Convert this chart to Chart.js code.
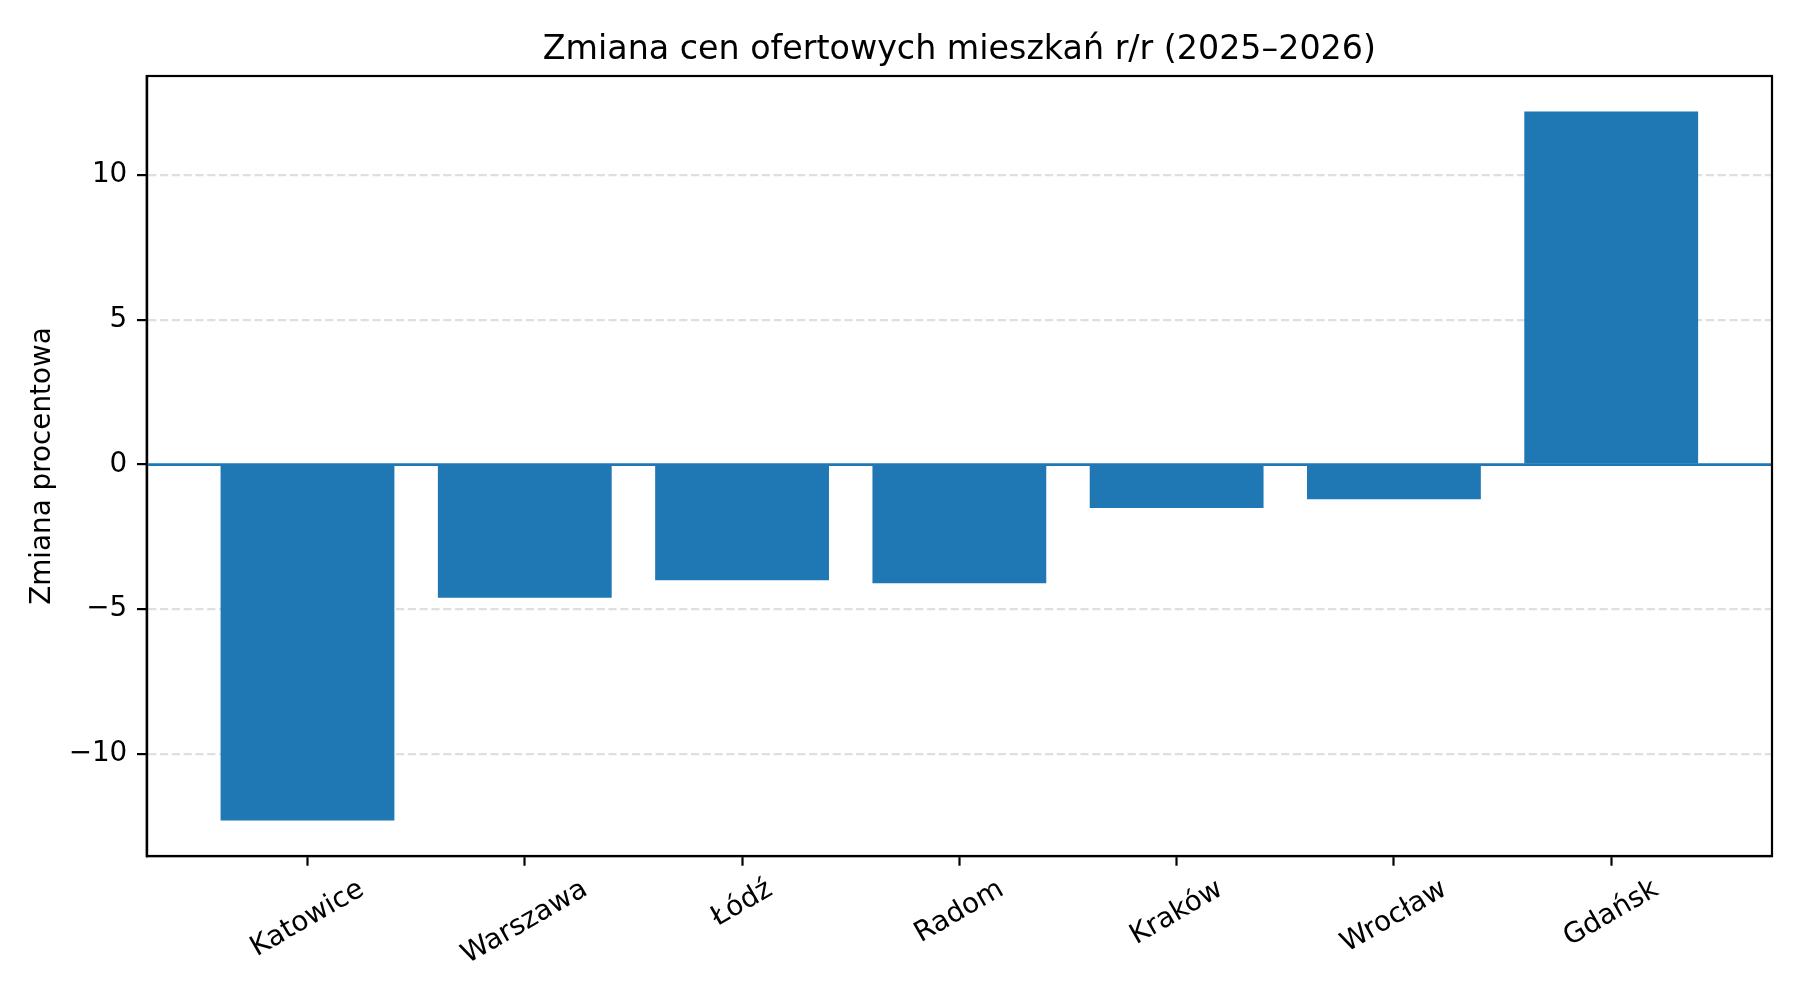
<!DOCTYPE html>
<html>
<head>
<meta charset="utf-8">
<script src="https://cdn.jsdelivr.net/npm/chart.js@4"></script>
<style>
  body { margin: 0; background: #fff; }
  canvas { display: block; }
</style>
</head>
<body>
<canvas id="myChart" width="1800" height="1000"></canvas>
<script>
var cities = ['Katowice', 'Warszawa', 'Łódź', 'Radom', 'Kraków', 'Wrocław', 'Gdańsk'];
var changes = [-12.3, -4.6, -4.0, -4.1, -1.5, -1.2, 12.2];
var yTicks = [-10, -5, 0, 5, 10];
var chartTitle = 'Zmiana cen ofertowych mieszkań r/r (2025–2026)';

var FONT = "'DejaVu Sans', sans-serif";
var LABEL_SIZE = 27.8;
var TITLE_SIZE = 33.3;

// title over the axes, spines on all four sides, the zero line and the rotated city labels
var framePlugin = {
    id: 'frame',
    afterDraw: function(chart) {
        var ctx = chart.ctx;
        var area = chart.chartArea;
        var x = chart.scales.x;
        var y = chart.scales.y;

        ctx.save();
        var y0 = y.getPixelForValue(0);
        ctx.strokeStyle = '#1f77b4';
        ctx.lineWidth = 2.8;
        ctx.beginPath();
        ctx.moveTo(area.left, y0);
        ctx.lineTo(area.right, y0);
        ctx.stroke();

        ctx.strokeStyle = '#000';
        ctx.lineWidth = 2.2;
        ctx.strokeRect(area.left, area.top, area.right - area.left, area.bottom - area.top);

        ctx.fillStyle = '#000';
        ctx.font = TITLE_SIZE + 'px ' + FONT;
        ctx.textAlign = 'center';
        ctx.textBaseline = 'alphabetic';
        ctx.fillText(chartTitle, (area.left + area.right) / 2, area.top - 16.7);

        ctx.font = LABEL_SIZE + 'px ' + FONT;
        var top = area.bottom + 19.4;
        var ang = 30 * Math.PI / 180;
        for (var i = 0; i < cities.length; i++) {
            var w = ctx.measureText(cities[i]).width;
            var h = LABEL_SIZE;
            var boxH = w * Math.sin(ang) + h * Math.cos(ang);
            ctx.save();
            ctx.translate(x.getPixelForValue(i), top + boxH / 2);
            ctx.rotate(-ang);
            ctx.fillText(cities[i], 0, 0.262 * LABEL_SIZE);
            ctx.restore();
        }
        ctx.restore();
    }
};

var ctx = document.getElementById('myChart').getContext('2d');
var myChart = new Chart(ctx, {
    type: 'bar',
    data: {
        datasets: [{
            data: changes.map(function(v, i) { return { x: i, y: v }; }),
            backgroundColor: '#1f77b4',
            borderWidth: 0,
            barPercentage: 0.8,
            categoryPercentage: 1.0
        }]
    },
    options: {
        responsive: false,
        animation: false,
        devicePixelRatio: 1,
        layout: { padding: { left: 0, right: 28, top: 76, bottom: 0 } },
        plugins: {
            legend: { display: false },
            tooltip: { enabled: false },
            title: { display: false }
        },
        scales: {
            x: {
                type: 'linear',
                min: -0.74,
                max: 6.74,
                offset: false,
                afterBuildTicks: function(scale) {
                    scale.ticks = cities.map(function(c, i) { return { value: i }; });
                },
                afterFit: function(scale) { scale.height = 144; },
                ticks: { display: false },
                grid: {
                    offset: false,
                    drawOnChartArea: false,
                    tickLength: 9.7,
                    tickColor: '#000',
                    tickWidth: 2.2
                },
                border: { color: '#000', width: 2.2 }
            },
            y: {
                min: -13.525,
                max: 13.425,
                z: 1,
                afterBuildTicks: function(scale) {
                    scale.ticks = yTicks.map(function(v) { return { value: v }; });
                },
                afterFit: function(scale) { scale.width = 146.7; },
                ticks: {
                    color: '#000',
                    padding: 9.7,
                    font: { family: FONT, size: LABEL_SIZE },
                    callback: function(v) { return String(v).replace('-', '\u2212'); }
                },
                grid: {
                    color: function(c) {
                        return c.tick && c.tick.value === 0 ? 'rgba(0,0,0,0)' : 'rgba(176,176,176,0.4)';
                    },
                    lineWidth: 2.2,
                    tickLength: 9.7,
                    tickColor: '#000',
                    tickWidth: 2.2
                },
                border: { color: '#000', width: 2.2, dash: [8.2, 3.6] },
                title: {
                    display: true,
                    text: 'Zmiana procentowa',
                    color: '#000',
                    font: { family: FONT, size: LABEL_SIZE },
                    padding: { top: 26, bottom: 0 }
                }
            }
        }
    },
    plugins: [framePlugin]
});
</script>
</body>
</html>
